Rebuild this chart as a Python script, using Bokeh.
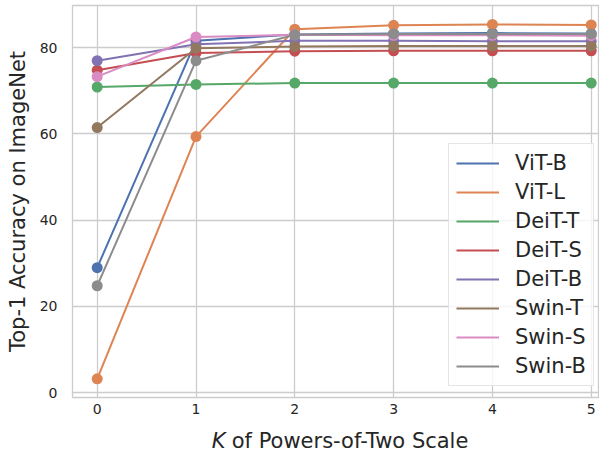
from bokeh.plotting import figure
from bokeh.layouts import column
from bokeh.models import Legend, LegendItem, Range1d, FixedTicker
from bokeh.core.properties import value
from bokeh.embed import file_html
from bokeh.resources import INLINE

k_values = [0, 1, 2, 3, 4, 5]
model_names = ["ViT-B", "ViT-L", "DeiT-T", "DeiT-S", "DeiT-B", "Swin-T", "Swin-S", "Swin-B"]
vit_b = [29.0, 81.6, 83.1, 83.3, 83.4, 83.3]
vit_l = [3.2, 59.4, 84.3, 85.2, 85.4, 85.3]
deit_t = [70.9, 71.5, 71.8, 71.8, 71.8, 71.8]
deit_s = [74.8, 78.8, 79.2, 79.3, 79.3, 79.3]
deit_b = [77.0, 80.8, 81.6, 81.6, 81.5, 81.5]
swin_t = [61.5, 79.9, 80.3, 80.4, 80.4, 80.4]
swin_s = [73.3, 82.5, 83.0, 82.9, 82.9, 82.8]
swin_b = [24.8, 77.0, 83.0, 83.2, 83.2, 83.2]
series = [vit_b, vit_l, deit_t, deit_s, deit_b, swin_t, swin_s, swin_b]
colors = ["#4C72B0", "#DD8452", "#55A868", "#C44E52", "#8172B3", "#937860", "#DA8BC3", "#8C8C8C"]
y_ticks = [0, 20, 40, 60, 80]
x_label_italic = "K"
x_label_rest = "of Powers-of-Two Scale"
y_label = "Top-1 Accuracy on ImageNet"

TEXT = "#262626"
GRID = "#cccccc"
FONT = "DejaVu Sans"
BIG = "21px"

xr = Range1d(-0.25, 5.084)
p = figure(width=599, height=420, output_backend="svg", toolbar_location=None,
           x_range=xr, y_range=Range1d(-1.12, 89.8),
           min_border_left=72, min_border_right=0, min_border_top=5, min_border_bottom=23)

p.background_fill_color = "white"
p.border_fill_color = "white"
p.outline_line_color = GRID
p.outline_line_width = 1.3

for ax in (p.xaxis[0], p.yaxis[0]):
    ax.axis_line_color = None
    ax.major_tick_line_color = None
    ax.minor_tick_line_color = None
    ax.major_tick_out = 0
    ax.major_tick_in = 0
    ax.minor_tick_out = 0
    ax.minor_tick_in = 0
    ax.major_label_text_font = FONT
    ax.major_label_text_font_size = "14px"
    ax.major_label_text_color = TEXT

p.xaxis.ticker = FixedTicker(ticks=k_values)
p.yaxis.ticker = FixedTicker(ticks=y_ticks)
p.xaxis.major_label_standoff = 6
p.yaxis.major_label_standoff = 15

p.yaxis.axis_label = y_label
p.yaxis.axis_label_text_font = FONT
p.yaxis.axis_label_text_font_size = BIG
p.yaxis.axis_label_text_font_style = "normal"
p.yaxis.axis_label_text_color = TEXT
p.yaxis.axis_label_standoff = 7

p.xgrid.ticker = FixedTicker(ticks=k_values)
p.ygrid.ticker = FixedTicker(ticks=y_ticks)
for g in (p.xgrid[0], p.ygrid[0]):
    g.grid_line_color = GRID
    g.grid_line_width = 1.3

items = []
for name, vals, c in zip(model_names, series, colors):
    r = p.line(k_values, vals, line_color=c, line_width=2)
    p.scatter(k_values, vals, size=11, fill_color=c, line_color=c, line_width=0)
    items.append(LegendItem(label=name, renderers=[r]))

legend = Legend(items=items, location=(376, 11))
legend.label_text_font = FONT
legend.label_text_font_size = BIG
legend.label_text_color = TEXT
legend.glyph_width = 43
legend.glyph_height = 20
legend.label_height = 20
legend.label_standoff = 16
legend.spacing = 5
legend.padding = 7
legend.margin = 0
legend.border_line_color = GRID
legend.border_line_width = 1.3
legend.background_fill_color = "white"
legend.background_fill_alpha = 0.8
p.add_layout(legend)

# x-axis label strip (italic K + rest), sharing the x range
p2 = figure(width=599, height=32, output_backend="svg", toolbar_location=None,
            x_range=xr, y_range=Range1d(0, 32), x_axis_location=None, y_axis_location=None,
            min_border_left=72, min_border_right=0, min_border_top=0, min_border_bottom=0)
p2.outline_line_color = None
p2.grid.visible = False
p2.background_fill_color = "white"
p2.border_fill_color = "white"
p2.text(x=[1.299], y=[12], text=[x_label_italic], text_align="right", text_baseline="alphabetic",
        text_font=value(FONT), text_font_size=BIG, text_font_style="italic", text_color=TEXT)
p2.text(x=[1.362], y=[12], text=[x_label_rest], text_align="left", text_baseline="alphabetic",
        text_font=value(FONT), text_font_size=BIG, text_color=TEXT)

layout = column(p, p2, spacing=0)
open("out.html", "w").write(file_html(layout, INLINE))
